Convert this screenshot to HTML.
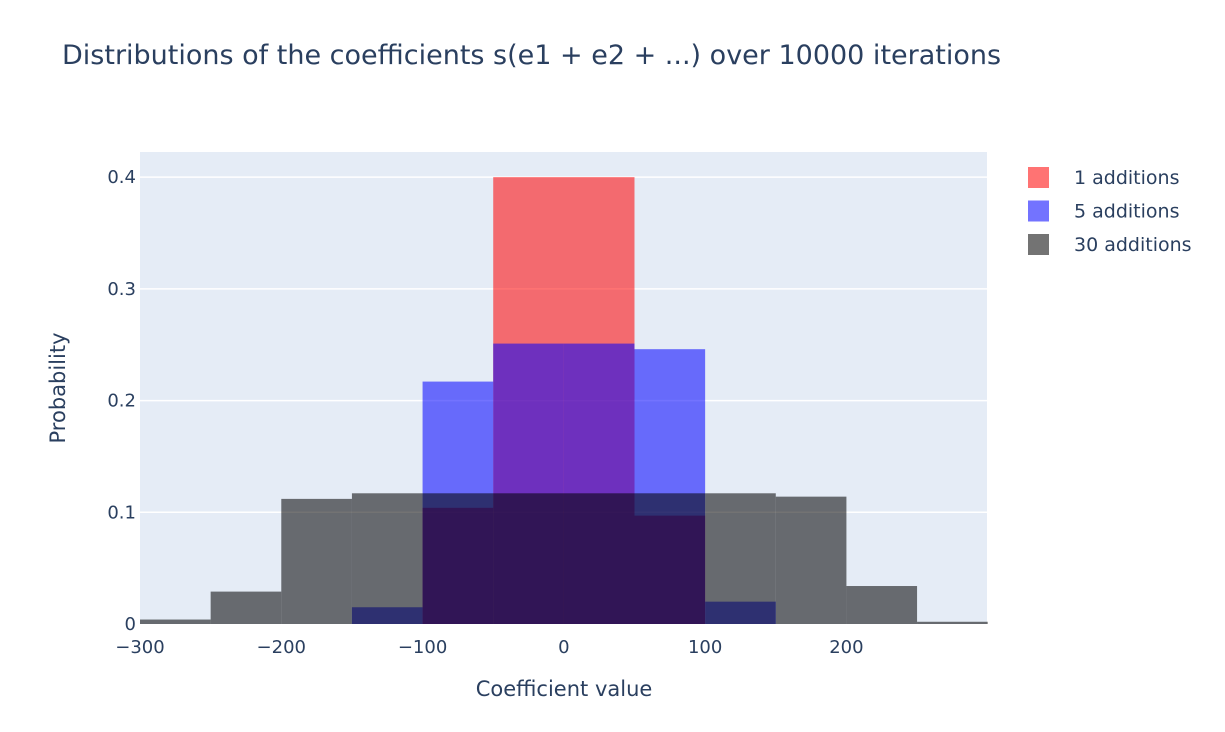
<!DOCTYPE html>
<html><head><meta charset="utf-8">
<style>
body{margin:0;background:#fff;font-family:"DejaVu Sans","Liberation Sans",sans-serif;}
svg text{font-family:"DejaVu Sans","Liberation Sans",sans-serif;fill:#2a3f5f;}
</style></head>
<body>
<svg id="chart" width="1225" height="728" xmlns="http://www.w3.org/2000/svg">
<text x="62" y="64" font-size="27">Distributions of the coefficients s(e1 + e2 + ...) over 10000 iterations</text>
<rect x="140" y="152" width="847" height="472" fill="#e5ecf6"/>
<g id="grid"></g>
<g id="bars"></g>
<g id="axes"></g>
<text x="564" y="696" font-size="21" text-anchor="middle">Coefficient value</text>
<text transform="translate(65,388) rotate(-90)" font-size="21" text-anchor="middle">Probability</text>
<g id="legend"></g>
</svg>
<script>
const series1Edges = [-100, -50, 50, 100];
const series1Values = [0.104, 0.4, 0.097];
const series5Edges = [-150, -100, -50, 0, 50, 100, 150];
const series5Values = [0.015, 0.217, 0.251, 0.251, 0.246, 0.02];
const series30Edges = [-300, -250, -200, -150, -100, 100, 150, 200, 250, 300];
const series30Values = [0.004, 0.029, 0.112, 0.117, 0.117, 0.117, 0.114, 0.034, 0.002];
const seriesNames = ["1 additions", "5 additions", "30 additions"];
const xTicks = [-300, -200, -100, 0, 100, 200];
const yTicks = [0, 0.1, 0.2, 0.3, 0.4];

const NS = "http://www.w3.org/2000/svg";
const X0 = 140, X1 = 987, Y0 = 624, Y1 = 152;
const xMin = -300, xMax = 299.5, yMin = 0, yMax = 0.4225;
const xs = v => X0 + (v - xMin) / (xMax - xMin) * (X1 - X0);
const ys = v => Y0 - (v - yMin) / (yMax - yMin) * (Y0 - Y1);
function mk(tag, attrs, parent) {
  const e = document.createElementNS(NS, tag);
  for (const k in attrs) e.setAttribute(k, attrs[k]);
  parent.appendChild(e);
  return e;
}
const grid = document.getElementById('grid');
yTicks.forEach(t => {
  if (t > 0) {
    const l = mk('line', {x1: X0, x2: X1, y1: ys(t), y2: ys(t), stroke: '#fff', 'stroke-width': 1.5}, grid);
    
    
  }
});
const bars = document.getElementById('bars');
const colors = ['#ff0000', '#0000ff', '#000000'];
const all = [[series1Edges, series1Values], [series5Edges, series5Values], [series30Edges, series30Values]];
all.forEach(([edges, vals], si) => {
  vals.forEach((v, i) => {
    const x = xs(edges[i]), w = xs(edges[i + 1]) - x;
    const r = mk('rect', {x: x, y: ys(v), width: w, height: ys(0) - ys(v), fill: colors[si], 'fill-opacity': 0.55}, bars);
    
    
  });
});
const axes = document.getElementById('axes');
yTicks.forEach(t => {
  const tx = mk('text', {x: 136, y: ys(t) + 6, 'font-size': 18, 'text-anchor': 'end'}, axes);
  tx.textContent = t === 0 ? '0' : String(t);
  
  
});
xTicks.forEach(t => {
  const tx = mk('text', {x: xs(t), y: 653, 'font-size': 18, 'text-anchor': 'middle'}, axes);
  tx.textContent = t < 0 ? '\u2212' + Math.abs(t) : String(t);
  
  
});
const legend = document.getElementById('legend');
seriesNames.forEach((n, i) => {
  const y = 177 + i * 33.5;
  const r = mk('rect', {x: 1028, y: y - 10, width: 21, height: 21, fill: colors[i], 'fill-opacity': 0.55}, legend);
  
  
  const t = mk('text', {x: 1074, y: y + 7, 'font-size': 19}, legend);
  t.textContent = n;
  
  
});
</script>
</body></html>
